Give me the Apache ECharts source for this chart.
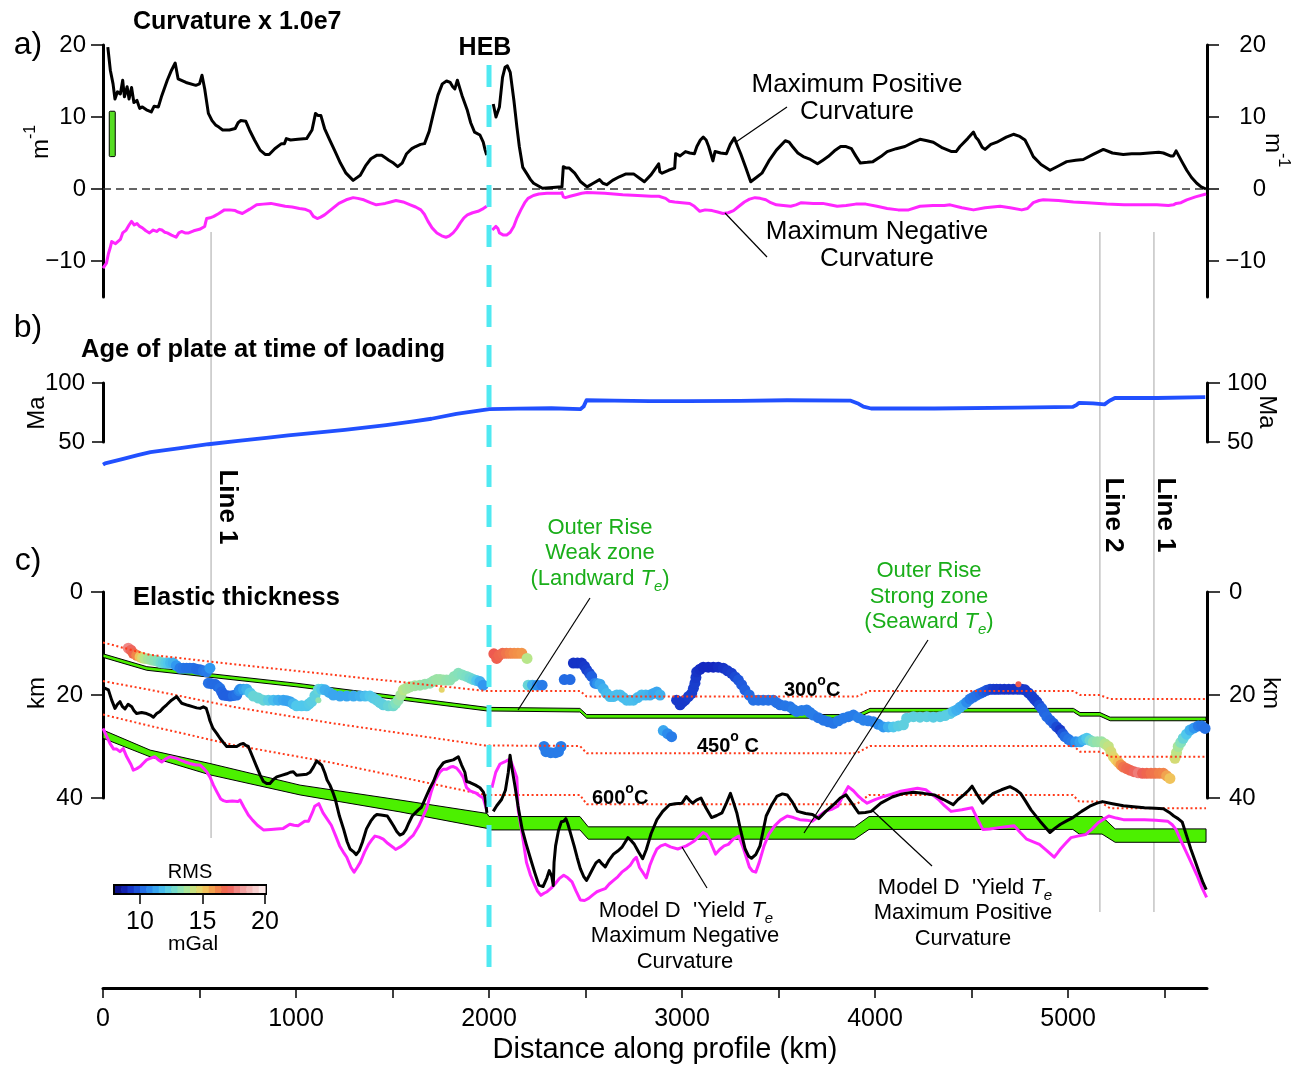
<!DOCTYPE html>
<html><head><meta charset="utf-8">
<script src="https://cdn.jsdelivr.net/npm/echarts@6/dist/echarts.min.js"></script>
<style>html,body{margin:0;padding:0;background:#fff}#c{width:1298px;height:1067px}</style>
</head><body><div id="c"></div>
<script>
const FONT = "'Liberation Sans', Arial, Helvetica, sans-serif";
const X_MAX = 5720;
const HEB_KM = 2000;
const xTickValues = [0,500,1000,1500,2000,2500,3000,3500,4000,4500,5000,5500];
const xLabelValues = [0,1000,2000,3000,4000,5000];
const curvTicks = [-10,0,10,20];
const rmsTicks = [10,15,20];
const rmsStops = [8,8.5,9,9.5,10,10.5,11,11.5,12,12.5,13,13.5,14,14.5,15,15.5,16,16.5,17,17.5,18,18.5,19,19.5,20];
const rmsColors = ['#0a0a78','#1428c0','#2060e0','#3098f0','#50c8ec','#80e0c0','#b8e68a','#f0d060','#f29048','#ee5a50','#f09494','#f6c4c4','#fff4f4'];
const seismicLinesKm = [560, 5165, 5445];
const seismicLineNames = ['Line 1', 'Line 2', 'Line 1'];

// Panel a: curvature x 1e7 (m^-1)
const zeroLine = [[0,0],[X_MAX,0]];
const posCurvature = [[25,19.7],[38,16.5],[52,14.6],[62,12.5],[75,13.5],[90,13.2],[102,15.1],[111,12.8],[125,14.2],[135,12.5],[148,14.1],[160,12.0],[176,12.3],[190,11.2],[204,11.4],[225,11.0],[250,10.7],[265,11.5],[287,11.4],[305,13.0],[333,15.1],[355,16.5],[374,17.5],[389,15.3],[430,14.8],[481,14.4],[500,14.6],[513,15.8],[527,13.9],[546,10.5],[565,9.5],[583,8.9],[600,8.6],[620,8.2],[655,8.2],[685,8.4],[700,9.2],[713,9.5],[740,9.4],[759,8.2],[785,6.8],[814,5.4],[840,4.8],[861,4.8],[890,5.6],[925,6.3],[940,6.3],[950,7.0],[972,6.8],[1010,6.9],[1055,7.0],[1083,8.2],[1101,10.5],[1115,10.2],[1129,10.2],[1148,8.4],[1175,6.8],[1203,5.2],[1230,3.6],[1259,2.2],[1296,1.2],[1333,1.9],[1360,3.2],[1388,4.2],[1420,4.7],[1444,4.7],[1465,4.3],[1481,4.0],[1505,3.6],[1527,3.1],[1550,3.6],[1573,4.9],[1600,5.6],[1620,5.9],[1645,6.2],[1666,6.3],[1690,8.0],[1712,10.5],[1735,13.0],[1758,14.6],[1780,15.0],[1799,14.8],[1812,14.2],[1823,13.9],[1836,15.1],[1860,13.0],[1888,10.9],[1905,9.2],[1925,7.9],[1953,7.5],[1970,6.5],[1980,5.4],[1988,4.7],
 null,
 [2022,11.8],[2036,10.0],[2046,10.0],[2054,11.4],[2070,15.5],[2083,16.9],[2095,17.1],[2110,16.2],[2129,12.3],[2145,8.5],[2157,5.9],[2175,3.0],[2194,2.2],[2215,1.3],[2231,0.8],[2277,0.1],[2330,0.2],[2378,0.3],[2385,3.1],[2400,2.9],[2416,2.9],[2444,2.2],[2475,1.0],[2508,0.3],[2540,0.8],[2573,1.3],[2590,0.8],[2610,0.6],[2640,1.2],[2675,1.7],[2710,2.1],[2749,2.1],[2780,1.5],[2805,1.0],[2840,2.0],[2879,3.5],[2885,2.4],[2897,2.2],[2930,2.6],[2962,2.9],[2967,4.9],[2990,4.6],[3018,5.2],[3040,5.0],[3064,4.9],[3077,5.9],[3095,6.8],[3110,7.2],[3125,6.8],[3138,5.9],[3160,3.9],[3171,5.2],[3200,5.0],[3230,4.9],[3250,6.2],[3271,7.1],[3290,5.8],[3304,4.9],[3330,3.0],[3356,1.0],[3385,1.6],[3414,2.2],[3450,3.9],[3489,5.4],[3535,6.7],[3555,6.5],[3572,5.9],[3600,5.0],[3628,4.5],[3665,4.1],[3702,3.5],[3730,4.0],[3757,4.5],[3790,5.3],[3822,5.9],[3850,5.9],[3878,5.6],[3900,4.6],[3924,3.6],[3960,3.7],[3989,3.8],[4030,4.5],[4063,5.2],[4110,5.6],[4155,5.9],[4200,6.5],[4233,6.9],[4270,6.7],[4302,6.5],[4350,5.7],[4397,5.2],[4420,5.2],[4440,5.9],[4480,7.0],[4510,7.9],[4522,7.2],[4535,6.8],[4555,5.8],[4570,5.5],[4600,6.2],[4631,6.5],[4680,7.2],[4717,7.6],[4750,7.3],[4777,6.8],[4800,5.6],[4820,4.5],[4860,3.4],[4907,2.6],[4950,3.2],[4993,3.8],[5040,4.0],[5079,4.1],[5130,4.8],[5183,5.5],[5230,5.0],[5286,4.8],[5330,4.9],[5373,4.9],[5420,5.0],[5470,5.1],[5494,5.0],[5530,4.6],[5546,4.6],[5560,5.3],[5590,3.8],[5615,2.6],[5640,1.6],[5667,0.8],[5690,0.3],[5715,0]];
const negCurvature = [[0,-11.0],[10,-10.6],[18,-10.3],[28,-9.0],[37,-8.2],[45,-7.3],[55,-7.1],[65,-7.6],[74,-7.5],[90,-7.0],[102,-6.1],[120,-5.7],[135,-5.0],[148,-4.5],[162,-5.0],[176,-4.8],[190,-5.2],[204,-5.4],[222,-5.8],[241,-6.1],[260,-5.7],[278,-5.9],[292,-5.6],[305,-5.7],[320,-6.0],[333,-6.1],[355,-6.4],[379,-6.7],[393,-6.1],[407,-5.9],[425,-6.1],[444,-6.1],[470,-5.8],[500,-5.6],[527,-5.2],[532,-4.6],[537,-4.1],[555,-4.0],[574,-3.8],[600,-3.4],[629,-2.9],[655,-2.9],[685,-3.0],[700,-3.2],[722,-3.4],[760,-2.8],[796,-2.2],[830,-2.1],[870,-2.0],[905,-2.2],[944,-2.4],[980,-2.5],[1018,-2.7],[1045,-2.8],[1073,-3.1],[1090,-3.8],[1110,-4.1],[1128,-3.9],[1148,-3.6],[1185,-2.8],[1222,-2.0],[1260,-1.5],[1296,-1.2],[1320,-1.3],[1351,-1.5],[1385,-1.9],[1416,-2.2],[1440,-2.1],[1462,-2.0],[1490,-1.8],[1518,-1.6],[1555,-1.8],[1592,-2.2],[1620,-2.5],[1647,-2.9],[1665,-3.5],[1684,-4.5],[1705,-5.4],[1730,-6.1],[1755,-6.5],[1777,-6.7],[1795,-6.5],[1814,-6.1],[1832,-5.5],[1851,-4.7],[1870,-4.0],[1888,-3.6],[1915,-3.3],[1943,-3.1],[1965,-2.8],[1988,-2.4],
 null,
 [2017,-5.7],[2036,-5.2],[2046,-5.5],[2054,-6.1],[2075,-6.4],[2091,-6.4],[2110,-6.0],[2128,-5.2],[2145,-4.0],[2165,-2.9],[2185,-1.9],[2202,-1.3],[2230,-0.9],[2258,-0.7],[2300,-0.6],[2365,-0.6],[2378,-0.5],[2385,-1.1],[2396,-1.2],[2420,-1.0],[2451,-0.8],[2480,-0.6],[2508,-0.5],[2600,-0.6],[2693,-0.8],[2770,-0.9],[2841,-1.0],[2880,-1.0],[2915,-1.3],[2935,-1.7],[2962,-1.8],[3000,-1.9],[3040,-2.0],[3064,-2.4],[3092,-3.1],[3120,-2.9],[3156,-3.0],[3185,-3.2],[3212,-3.4],[3240,-3.3],[3267,-3.0],[3295,-2.4],[3323,-1.8],[3350,-1.4],[3378,-1.2],[3405,-1.3],[3434,-1.5],[3460,-1.9],[3489,-2.2],[3525,-2.3],[3563,-2.4],[3590,-2.2],[3618,-1.9],[3680,-2.0],[3729,-2.0],[3765,-2.2],[3804,-2.4],[3850,-2.3],[3900,-2.1],[3952,-2.1],[4010,-2.4],[4063,-2.7],[4120,-2.9],[4174,-2.9],[4233,-2.4],[4300,-2.3],[4359,-2.3],[4389,-2.2],[4450,-2.6],[4510,-2.9],[4570,-2.6],[4648,-2.4],[4700,-2.6],[4760,-2.9],[4790,-2.7],[4820,-1.9],[4850,-1.6],[4872,-1.5],[4950,-1.6],[5028,-1.8],[5100,-1.9],[5200,-2.1],[5290,-2.2],[5373,-2.2],[5460,-2.2],[5520,-2.3],[5546,-2.2],[5560,-2.0],[5585,-1.9],[5615,-1.5],[5660,-1.1],[5715,-0.7]];
const scaleBar = [[48, 4.5, 10.8]];

// Panel b: age of plate at time of loading (Ma)
const plateAge = [[0,30.8],[11,31.9],[100,35.5],[180,38.8],[246,41.4],[400,44.8],[546,48.1],[700,50.9],[846,53.5],[960,55.6],[1081,57.6],[1253,60.3],[1467,64.3],[1600,67.2],[1702,69.7],[1831,73.8],[1920,76.0],[2002,77.8],[2150,78.2],[2323,78.6],[2473,77.8],[2490,80.0],[2505,85.4],[2650,85.0],[2833,84.6],[3022,84.6],[3300,84.8],[3544,85.4],[3871,85.1],[3915,82.4],[3940,80.0],[3980,78.4],[4307,78.4],[4742,79.2],[5025,79.7],[5045,81.5],[5058,83.2],[5130,82.8],[5189,81.9],[5215,85.0],[5243,87.3],[5461,87.3],[5711,88.1]];

// Panel c: elastic thickness (km)
const iso300 = [[0,9.8],[243,12.2],[675,14.0],[1193,16.1],[1979,19.2],[2471,19.2],[2506,20.3],[3905,20.3],[3974,19.2],[5028,19.2],[5062,20.0],[5165,20.0],[5218,20.8],[5715,20.8]];
const iso450 = [[0,17.3],[243,19.0],[675,22.3],[1193,25.5],[1979,29.8],[2471,29.9],[2506,31.3],[3905,31.3],[3974,29.9],[5028,29.9],[5062,31.0],[5165,31.0],[5218,32.0],[5715,32.0]];
const iso600 = [[0,23.8],[243,26.0],[675,29.7],[1193,33.2],[1979,39.4],[2471,39.4],[2506,41.2],[3905,41.2],[3969,39.4],[5025,39.4],[5058,40.7],[5165,40.7],[5218,42.0],[5715,42.0]];
const landwardTop = [[0,12.0],[227,14.5],[1000,17.7],[1990,22.4],[2471,22.6],[2506,23.8],[3905,23.8],[3974,22.6],[5028,22.6],[5062,23.4],[5165,23.4],[5218,24.3],[5715,24.3]];
const landwardBottom = [[0,12.7],[227,15.2],[1000,18.4],[1990,23.1],[2471,23.3],[2506,24.5],[3905,24.5],[3974,23.3],[5028,23.3],[5062,24.1],[5165,24.1],[5218,25.0],[5715,25.0]];
const seawardTop = [[0,26.8],[244,30.7],[554,33.3],[1021,37.5],[1539,40.4],[1990,43.0],[2000,43.6],[2471,43.6],[2514,45.6],[3895,45.6],[3969,43.6],[5176,43.6],[5244,46.0],[5715,46.0]];
const seawardBottom = [[0,28.4],[244,32.0],[554,35.5],[1021,39.4],[1539,42.7],[1990,45.9],[2000,46.2],[2471,46.2],[2514,48.0],[3895,48.0],[3969,46.1],[5025,46.1],[5058,47.0],[5176,47.0],[5244,48.6],[5715,48.6]];
const yieldTePos = [[0,18.5],[10,18.7],[28,19.0],[45,21.0],[62,22.6],[75,21.8],[88,21.3],[100,22.2],[114,22.7],[130,21.8],[149,22.3],[160,23.0],[174,23.6],[200,23.4],[226,23.6],[245,23.9],[261,24.3],[278,23.6],[295,23.2],[312,22.5],[330,21.9],[355,21.0],[382,20.3],[395,21.0],[408,21.6],[440,22.0],[468,22.3],[485,22.5],[503,22.6],[520,22.3],[535,22.6],[546,23.9],[554,25.0],[570,26.5],[590,27.5],[606,28.4],[625,29.3],[641,30.0],[665,30.0],[693,30.0],[710,29.6],[727,29.4],[740,29.8],[753,30.0],[775,32.0],[796,33.9],[815,35.6],[831,36.8],[848,37.2],[865,37.2],[883,36.4],[900,35.9],[925,35.6],[952,35.3],[970,35.0],[986,34.9],[1003,35.6],[1030,35.5],[1055,35.4],[1073,35.0],[1090,34.0],[1107,32.8],[1120,33.2],[1133,33.6],[1150,35.2],[1161,36.5],[1176,37.5],[1190,38.8],[1204,40.3],[1225,43.5],[1247,46.1],[1265,48.5],[1280,49.9],[1297,50.4],[1312,51.0],[1328,50.2],[1344,48.6],[1365,46.0],[1387,44.5],[1405,43.6],[1419,43.2],[1440,43.3],[1473,43.5],[1490,44.5],[1505,45.4],[1522,46.5],[1538,47.2],[1555,46.9],[1570,46.1],[1585,44.8],[1602,43.5],[1618,42.9],[1634,42.3],[1650,41.8],[1665,40.5],[1677,39.5],[1695,38.0],[1712,36.8],[1735,34.6],[1763,33.2],[1781,32.9],[1815,32.6],[1841,32.0],[1858,33.6],[1875,35.0],[1884,36.8],[1902,37.0],[1930,37.5],[1953,38.0],[1970,38.8],[1979,39.8],[1989,42.9],
 null,
 [2022,42.6],[2040,41.5],[2065,40.3],[2085,38.5],[2100,35.0],[2109,31.7],[2118,34.0],[2135,37.8],[2150,41.5],[2172,46.1],[2193,49.0],[2215,51.8],[2237,54.5],[2258,56.9],[2280,57.2],[2300,55.5],[2312,54.1],[2325,55.2],[2333,57.0],[2337,52.5],[2345,49.3],[2360,46.3],[2375,44.6],[2387,44.5],[2398,44.0],[2409,45.1],[2425,47.2],[2441,49.3],[2457,51.6],[2473,53.7],[2490,55.2],[2505,56.0],[2520,55.0],[2538,53.7],[2554,52.6],[2570,52.1],[2586,52.8],[2602,53.4],[2623,52.0],[2645,50.9],[2667,50.3],[2688,49.6],[2705,48.6],[2720,47.7],[2737,48.3],[2753,49.0],[2775,50.5],[2796,51.8],[2815,50.0],[2840,46.9],[2870,44.2],[2900,42.6],[2935,41.3],[2965,41.1],[3000,41.0],[3022,39.7],[3040,40.5],[3055,41.0],[3075,40.4],[3098,40.0],[3125,42.0],[3153,43.8],[3180,43.4],[3207,42.9],[3230,41.0],[3251,39.1],[3268,41.0],[3284,42.9],[3305,46.5],[3327,49.9],[3345,51.3],[3360,51.7],[3382,51.0],[3404,49.3],[3420,46.4],[3436,43.5],[3465,41.3],[3491,39.7],[3520,39.2],[3545,39.4],[3572,40.8],[3599,42.6],[3640,43.0],[3676,43.2],[3708,44.0],[3745,42.6],[3785,41.3],[3820,40.0],[3850,39.4],[3880,41.0],[3915,42.9],[3950,42.8],[3980,42.6],[4030,41.0],[4089,39.8],[4140,39.2],[4198,38.9],[4250,39.1],[4307,39.4],[4355,40.3],[4405,41.3],[4430,40.3],[4460,39.4],[4485,38.5],[4503,37.7],[4530,39.4],[4558,41.0],[4585,40.0],[4612,39.1],[4655,38.4],[4699,37.8],[4730,38.4],[4754,39.1],[4780,40.6],[4808,42.3],[4855,44.5],[4906,46.7],[4935,45.8],[4961,45.1],[4995,44.4],[5025,43.8],[5070,42.6],[5113,41.6],[5150,41.0],[5178,40.7],[5230,41.1],[5287,41.5],[5340,41.7],[5396,41.9],[5450,42.0],[5494,42.1],[5525,42.8],[5548,43.5],[5570,44.0],[5592,44.7],[5614,47.3],[5636,49.9],[5658,52.2],[5679,54.4],[5700,56.5],[5716,57.8]];
const yieldTeNeg = [[0,26.5],[10,26.8],[36,29.4],[55,30.5],[71,30.5],[88,31.0],[105,30.4],[123,32.0],[131,32.3],[145,33.5],[157,34.6],[175,34.3],[192,33.9],[210,33.2],[226,32.6],[244,32.3],[269,32.0],[287,32.6],[304,33.0],[325,32.4],[347,32.0],[382,32.3],[399,32.6],[425,33.0],[451,33.3],[480,33.6],[503,33.6],[520,34.2],[537,34.9],[555,36.0],[572,37.5],[590,38.8],[610,40.2],[624,40.5],[641,40.7],[670,40.6],[699,40.7],[710,40.4],[730,41.8],[753,43.3],[775,44.3],[800,45.3],[831,46.2],[870,46.1],[900,46.0],[934,45.9],[968,45.1],[990,45.3],[1011,45.4],[1021,45.2],[1045,44.5],[1065,44.5],[1085,42.8],[1097,41.6],[1107,41.4],[1118,41.1],[1140,42.9],[1160,44.0],[1183,45.3],[1205,47.3],[1226,49.3],[1245,50.5],[1263,51.5],[1285,53.5],[1301,54.4],[1317,53.5],[1333,52.5],[1355,50.5],[1376,49.0],[1395,48.0],[1409,47.4],[1430,47.6],[1452,48.0],[1475,48.8],[1504,49.6],[1516,50.0],[1540,49.5],[1559,49.0],[1585,48.0],[1608,47.2],[1635,45.5],[1656,43.8],[1677,42.0],[1699,39.0],[1720,36.6],[1745,35.0],[1763,34.4],[1781,34.4],[1800,34.0],[1815,33.9],[1832,34.2],[1850,35.0],[1867,36.0],[1884,38.0],[1902,38.6],[1930,39.0],[1953,39.6],[1970,40.0],[1988,42.3],
 null,
 [2015,38.0],[2035,35.0],[2057,33.4],[2080,33.0],[2100,32.6],[2115,33.0],[2130,34.5],[2144,36.0],[2151,42.3],[2172,47.0],[2194,52.5],[2215,55.0],[2237,56.9],[2250,58.0],[2269,58.9],[2285,58.5],[2301,58.2],[2322,57.5],[2344,56.6],[2365,55.6],[2387,55.0],[2408,55.5],[2430,56.3],[2450,58.0],[2473,59.8],[2495,59.9],[2516,59.5],[2538,58.8],[2559,58.2],[2580,57.9],[2602,57.6],[2623,56.7],[2645,56.0],[2667,55.3],[2688,54.4],[2710,53.8],[2731,53.1],[2750,52.0],[2763,51.5],[2780,53.5],[2796,54.4],[2815,55.5],[2834,53.0],[2850,51.5],[2870,49.9],[2890,49.3],[2913,49.0],[2940,49.5],[2978,49.9],[3000,49.6],[3022,49.3],[3045,48.8],[3065,48.3],[3087,47.5],[3109,46.7],[3125,47.0],[3142,48.0],[3158,49.5],[3174,50.9],[3195,50.0],[3218,49.3],[3240,49.0],[3265,48.0],[3294,47.4],[3320,50.0],[3349,53.4],[3365,54.2],[3382,54.4],[3400,52.5],[3425,49.3],[3450,47.0],[3480,45.4],[3510,44.3],[3545,43.5],[3578,43.8],[3610,44.2],[3645,44.3],[3676,44.5],[3710,43.5],[3741,42.6],[3775,42.2],[3807,41.6],[3835,39.5],[3861,37.8],[3888,38.6],[3915,39.7],[3940,40.5],[3959,41.0],[4000,40.3],[4046,39.7],[4090,39.2],[4133,38.7],[4176,38.4],[4220,38.1],[4263,38.4],[4295,39.3],[4329,40.3],[4360,41.5],[4394,42.6],[4450,42.3],[4503,41.9],[4530,44.0],[4558,46.1],[4595,46.0],[4634,45.8],[4680,45.6],[4721,45.4],[4755,46.8],[4786,48.0],[4820,48.5],[4852,49.0],[4890,50.2],[4928,51.5],[4945,50.7],[4961,49.9],[4990,48.7],[5015,47.7],[5050,47.4],[5091,47.1],[5125,46.0],[5156,44.8],[5185,44.1],[5211,43.5],[5250,43.9],[5287,44.2],[5340,44.2],[5396,44.2],[5455,44.3],[5516,44.5],[5540,45.2],[5559,46.1],[5585,48.3],[5614,50.6],[5641,52.8],[5668,55.0],[5695,57.5],[5718,59.3]];
// Te estimates [km, Te depth km, RMS mGal]
const teDots = [[131,10.9,17.8],[145,11.3,17.2],[157,11.9,16.8],[175,12.3,16.2],[192,12.6,15.2],[205,12.8,14.6],[218,12.9,14.0],[235,13.0,13.7],[252,13.2,13.5],[270,13.3,13.2],[287,13.5,13.0],[300,13.7,12.7],[312,13.8,12.5],[325,13.8,12.2],[338,13.8,12.0],[350,13.8,11.7],[364,13.8,11.5],[380,14.3,11.0],[399,14.8,10.5],[416,14.8,10.4],[433,14.8,10.3],[450,14.8,10.3],[468,14.8,10.3],[485,15.0,10.2],[503,15.1,10.2],[520,15.3,10.4],[537,15.5,10.5],[554,14.8,11.0],
 [546,17.7,10.3],[563,17.8,10.2],[580,17.9,10.2],[593,18.3,10.2],[606,18.7,10.3],[615,19.4,10.1],[623,20.0,10.0],[640,20.1,10.0],[658,20.2,10.0],[675,20.1,10.2],[693,20.0,10.3],[705,19.2,10.6],[710,18.9,10.8],[728,18.9,11.2],[745,18.9,11.5],[762,19.6,12.0],[779,20.2,12.5],[805,20.6,12.5],[831,21.0,12.5],[857,21.0,12.2],[883,21.0,11.8],[908,21.0,11.5],[934,21.0,11.3],[952,21.1,11.2],[969,21.3,11.2],[986,21.7,11.6],[1003,22.1,12.0],[1029,22.1,12.0],[1055,22.1,12.0],[1068,21.7,12.1],[1081,21.3,12.2],[1098,20.1,12.3],[1116,18.9,12.5],[1133,18.9,12.0],[1150,19.0,11.5],[1172,19.5,11.4],[1193,20.0,11.3],[1228,20.2,11.3],[1263,20.2,11.3],[1298,20.2,11.4],[1332,20.2,11.5],[1358,20.2,11.8],[1383,20.2,12.0],[1400,20.6,12.1],[1418,21.0,12.2],[1435,21.5,12.3],[1452,21.9,12.3],[1478,22.1,12.5],[1504,22.1,12.7],[1517,21.6,13.0],[1530,21.0,13.3],[1543,20.0,13.7],[1556,19.0,14.0],[1573,18.7,13.8],[1591,18.4,13.7],[1616,18.2,13.6],[1642,18.1,13.5],[1668,17.9,13.4],[1694,17.7,13.3],[1712,17.3,13.4],[1729,17.0,13.5],[1746,17.0,13.5],[1763,17.1,13.5],[1780,17.1,13.4],[1798,17.1,13.3],[1820,16.4,13.2],[1841,15.8,13.1],[1862,16.1,13.0],[1884,16.4,12.9],[1902,16.7,12.7],[1919,17.0,12.5],[1936,17.2,12.0],[1953,17.4,11.5],[1970,18.1,11.0],
 [2025,12.0,17.0],[2040,12.9,16.9],[2052,12.3,16.8],[2070,11.9,16.7],[2090,11.9,16.5],[2110,11.9,16.3],[2130,11.9,16.1],[2150,11.9,16.0],[2170,11.9,15.9],[2197,12.9,14.0],
 [2203,18.1,12.5],[2225,18.1,11.5],[2250,18.1,10.8],[2275,18.1,10.5],
 [2285,30.0,10.5],[2295,31.0,10.5],[2320,31.2,10.5],[2345,31.2,10.5],[2360,31.0,10.5],[2373,30.0,10.5],
 [2390,17.0,10.2],[2420,17.0,10.2],
 [2437,13.8,9.2],[2458,13.8,9.2],[2480,13.8,9.2],[2495,14.4,9.3],[2506,15.1,9.4],[2520,15.8,9.6],[2532,16.4,10.0],[2549,17.7,10.5],[2562,17.8,10.9],[2575,17.9,11.3],[2592,18.8,11.5],[2609,19.7,11.7],[2627,20.3,11.8],[2644,20.3,11.8],[2662,20.0,11.8],[2679,20.0,11.8],[2696,20.5,11.8],[2713,21.0,11.8],[2730,21.0,11.8],[2748,21.0,11.8],[2770,20.5,11.7],[2791,20.0,11.7],[2812,20.0,11.6],[2834,20.0,11.5],[2852,19.7,11.3],[2869,19.4,11.3],[2886,20.0,11.5],
 [2903,26.9,11.3],[2925,27.5,10.8],[2946,28.1,10.5],
 [2972,21.0,9.3],[2990,21.9,9.3],[3003,21.4,9.3],[3016,21.0,9.3],[3033,20.3,9.4],[3050,19.7,9.4],[3059,18.7,9.4],[3067,17.7,9.4],[3072,16.6,9.3],[3076,15.5,9.2],[3093,15.0,9.1],[3110,14.6,9.0],[3136,14.6,9.0],[3162,14.6,9.0],[3188,14.6,9.1],[3214,14.8,9.2],[3236,15.3,9.3],[3257,15.8,9.4],[3275,16.5,9.6],[3292,17.1,9.8],[3309,18.0,9.9],[3326,19.0,10.0],[3348,20.0,10.2],[3369,21.0,10.3],[3395,21.0,10.3],[3421,21.0,10.3],[3447,21.0,10.3],[3473,21.0,10.3],[3490,21.5,10.3],[3508,21.9,10.3],[3534,22.1,10.4],[3560,22.3,10.4],[3577,22.8,10.5],[3594,23.2,10.5],[3620,23.0,10.5],[3646,22.9,10.5],[3663,23.4,10.5],[3680,23.9,10.5],[3706,24.4,10.4],[3732,24.9,10.4],[3758,25.2,10.4],[3784,25.5,10.4],[3810,25.0,10.5],[3836,24.5,10.5],[3862,24.2,10.5],[3888,23.9,10.5],[3914,24.4,10.6],[3940,24.9,10.6],[3965,25.0,10.6],[3991,25.2,10.6],[4017,25.7,10.8],[4043,26.2,11.0],[4069,26.2,11.5],[4095,26.2,12.0],[4121,26.0,12.2],[4147,25.8,12.3],[4164,24.5,12.3],[4199,24.2,12.3],[4233,24.3,12.3],[4268,24.2,12.3],[4302,24.3,12.2],[4337,24.2,12.2],[4363,24.0,12.2],[4389,23.6,12.2],[4406,23.2,11.8],[4423,22.9,11.5],[4440,22.4,11.4],[4458,21.9,11.3],[4475,21.4,10.8],[4492,20.8,10.5],[4510,20.4,10.4],[4527,20.0,10.3],[4544,19.7,10.2],[4561,19.4,10.0],[4578,19.1,9.8],[4596,18.9,9.6],[4613,18.9,9.4],[4630,18.9,9.3],[4648,18.9,9.3],[4670,18.9,9.2],[4693,18.9,9.2],[4716,18.9,9.2],[4740,18.9,9.2],[4760,18.9,9.3],[4777,19.0,9.3],[4795,19.6,9.3],[4812,20.2,9.4],[4825,20.8,9.4],[4838,21.3,9.4],[4851,22.0,9.7],[4864,22.6,10.0],[4877,23.4,10.1],[4890,24.2,10.2],[4907,24.9,10.1],[4924,25.5,10.0],[4941,26.2,9.6],[4959,26.8,9.3],[4972,27.5,9.8],[4984,28.1,10.2],[5002,28.6,10.4],[5019,29.1,10.5],[5040,29.1,10.9],[5062,29.1,11.2],[5080,28.7,11.6],[5097,28.4,12.0],[5114,28.8,12.6],[5131,29.1,13.2],[5152,29.1,13.4],[5174,29.1,13.5],[5192,29.5,13.9],[5209,30.0,14.2],[5222,31.0,14.5],[5235,32.0,14.7],[5248,32.6,15.0],[5261,33.1,15.3],[5274,33.6,16.0],[5287,34.0,16.5],[5304,34.3,16.7],[5321,34.6,16.8],[5342,34.9,17.2],[5364,35.1,17.6],[5386,35.2,17.1],[5408,35.2,16.8],[5430,35.2,16.6],[5451,35.2,16.5],[5473,35.2,16.3],[5494,35.2,16.2],[5511,35.7,15.7],[5528,36.2,15.2],
 [5554,32.3,14.5],[5562,31.2,14.1],[5571,30.0,13.7],[5584,29.2,13.1],[5597,28.4,12.5],[5614,27.6,12.0],[5632,26.8,11.5],[5653,26.4,11.0],[5675,26.0,10.5],[5693,26.0,10.4],[5710,26.5,10.3]];
const teSmallDots = [[1116,21.0,13.3],[1755,19.0,14.8],[4743,17.9,17.0]];

const chart = echarts.init(document.getElementById('c'), null, {renderer: 'canvas'});

const G = {left: 103, width: 1104};
const axisLineStyle = {show: true, lineStyle: {color: '#000', width: 3}};
const tickStyle = (len) => ({show: true, length: len, lineStyle: {color: '#000', width: 1.5}});
const lblStyle = (margin, extra) => Object.assign({color: '#000', fontSize: 24, fontFamily: FONT, margin: margin}, extra || {});
const hiddenX = (gi) => ({type: 'value', gridIndex: gi, min: 0, max: X_MAX, show: false});
const minusFmt = (v) => v < 0 ? '\u2212' + Math.abs(v) : String(v);
const plainFmt = (v) => String(v);

const bandRender = (top, bottom) => function (params, api) {
  const pts = top.map(p => api.coord(p)).concat(bottom.slice().reverse().map(p => api.coord(p)));
  return {type: 'polygon', shape: {points: pts}, style: {fill: '#4cf000', stroke: '#000', lineWidth: 1}};
};
const lineSeries = (xi, yi, data, color, width, extra) => Object.assign({
  type: 'line', xAxisIndex: xi, yAxisIndex: yi, data: data, symbol: 'none', showSymbol: false,
  clip: false, connectNulls: false, silent: true,
  lineStyle: {color: color, width: width, join: 'round'}
}, extra || {});

const colorbarData = [];
for (let i = 0; i < rmsStops.length - 1; i++) colorbarData.push([rmsStops[i], rmsStops[i + 1], (rmsStops[i] + rmsStops[i + 1]) / 2]);

const series = [];
series.push(lineSeries(0, 0, zeroLine, '#333', 1.3, {lineStyle: {color: '#333', width: 1.3, type: [8, 5]}}));
series.push(lineSeries(0, 0, posCurvature, '#000', 3));
series.push(lineSeries(0, 0, negCurvature, '#ff26ff', 3));
series.push({type: 'custom', xAxisIndex: 0, yAxisIndex: 0, data: scaleBar, clip: false, silent: true,
  renderItem: function (params, api) {
    const a = api.coord([api.value(0), api.value(2)]);
    const b = api.coord([api.value(0), api.value(1)]);
    return {type: 'rect', shape: {x: a[0] - 3, y: a[1], width: 6, height: b[1] - a[1], r: 1}, style: {fill: '#55dd22', stroke: '#000', lineWidth: 1}};
  }});
series.push(lineSeries(1, 2, plateAge, '#2150ff', 3.8));
series.push({type: 'custom', xAxisIndex: 2, yAxisIndex: 4, data: [[0, 0]], clip: false, silent: true, renderItem: bandRender(seawardTop, seawardBottom)});
series.push({type: 'custom', xAxisIndex: 2, yAxisIndex: 4, data: [[0, 0]], clip: false, silent: true, renderItem: bandRender(landwardTop, landwardBottom)});
[iso300, iso450, iso600].forEach(d => series.push(lineSeries(2, 4, d, '#ff3a1a', 2, {lineStyle: {color: '#ff3a1a', width: 2, type: [2, 2.6]}})));
series.push(lineSeries(2, 4, yieldTeNeg, '#ff26ff', 3));
series.push(lineSeries(2, 4, yieldTePos, '#000', 3));
const dotIdx = series.length;
series.push({type: 'scatter', xAxisIndex: 2, yAxisIndex: 4, data: teDots, symbolSize: 11, clip: false, silent: true, itemStyle: {opacity: 1}});
series.push({type: 'scatter', xAxisIndex: 2, yAxisIndex: 4, data: teSmallDots, symbolSize: 6, clip: false, silent: true, itemStyle: {opacity: 1}});
const barIdx = series.length;
series.push({type: 'custom', xAxisIndex: 4, yAxisIndex: 7, data: colorbarData, clip: false, silent: true,
  renderItem: function (params, api) {
    const p0 = api.coord([api.value(0), 1]);
    const p1 = api.coord([api.value(1), 0]);
    return {type: 'rect', shape: {x: p0[0], y: p0[1], width: p1[0] - p0[0] + 0.6, height: p1[1] - p0[1]}, style: {fill: api.visual('color')}};
  }});

const option = {
  animation: false,
  backgroundColor: '#fff',
  textStyle: {fontFamily: FONT},
  grid: [
    {left: G.left, width: G.width, top: 45, height: 252},
    {left: G.left, width: G.width, top: 383, height: 59},
    {left: G.left, width: G.width, top: 592, height: 206},
    {left: G.left, width: G.width, top: 592, height: 396},
    {left: 115, width: 150, top: 886, height: 7, show: true, borderColor: '#000', borderWidth: 4, backgroundColor: 'transparent'}
  ],
  xAxis: [
    hiddenX(0), hiddenX(1), hiddenX(2),
    {type: 'value', gridIndex: 3, min: 0, max: X_MAX, position: 'bottom',
      axisLine: axisLineStyle, axisTick: Object.assign(tickStyle(10), {customValues: xTickValues}),
      axisLabel: lblStyle(19, {fontSize: 25, customValues: xLabelValues, formatter: plainFmt}), splitLine: {show: false}},
    {type: 'value', gridIndex: 4, min: 8, max: 20, position: 'bottom',
      axisLine: {show: false}, axisTick: Object.assign(tickStyle(11), {customValues: rmsTicks}),
      axisLabel: lblStyle(17, {fontSize: 25, customValues: rmsTicks, formatter: plainFmt}), splitLine: {show: false}}
  ],
  yAxis: [
    {type: 'value', gridIndex: 0, position: 'left', min: -15, max: 20,
      axisLine: axisLineStyle, axisTick: Object.assign(tickStyle(12), {customValues: curvTicks}),
      axisLabel: lblStyle(17, {customValues: curvTicks, formatter: minusFmt}), splitLine: {show: false}},
    {type: 'value', gridIndex: 0, position: 'right', min: -15, max: 20,
      axisLine: axisLineStyle, axisTick: Object.assign(tickStyle(12), {customValues: curvTicks}),
      axisLabel: lblStyle(59, {customValues: curvTicks, formatter: minusFmt, align: 'right'}), splitLine: {show: false}},
    {type: 'value', gridIndex: 1, position: 'left', min: 50, max: 100, interval: 50,
      axisLine: axisLineStyle, axisTick: tickStyle(11), axisLabel: lblStyle(18), splitLine: {show: false}},
    {type: 'value', gridIndex: 1, position: 'right', min: 50, max: 100, interval: 50,
      axisLine: axisLineStyle, axisTick: tickStyle(13), axisLabel: lblStyle(20), splitLine: {show: false}},
    {type: 'value', gridIndex: 2, position: 'left', inverse: true, min: 0, max: 40, interval: 20,
      axisLine: axisLineStyle, axisTick: tickStyle(12), axisLabel: lblStyle(20), splitLine: {show: false}},
    {type: 'value', gridIndex: 2, position: 'right', inverse: true, min: 0, max: 40, interval: 20,
      axisLine: axisLineStyle, axisTick: tickStyle(13), axisLabel: lblStyle(22), splitLine: {show: false}},
    {type: 'value', gridIndex: 3, min: 0, max: 1, show: false},
    {type: 'value', gridIndex: 4, min: 0, max: 1, show: false}
  ],
  visualMap: [{type: 'continuous', show: false, min: 8, max: 20, dimension: 2,
    seriesIndex: [dotIdx, dotIdx + 1, barIdx], inRange: {color: rmsColors}}],
  series: series
};
chart.setOption(option);

// ---- annotations ----
function txt(x, y, text, o) {
  o = o || {};
  const style = {text: text, fill: o.color || '#000', fontSize: o.size || 22, fontFamily: FONT,
    fontWeight: o.weight || 'normal', fontStyle: o.style || 'normal',
    align: o.align || 'center', verticalAlign: o.va || 'middle',
    textAlign: o.align || 'center', textVerticalAlign: o.va || 'middle'};
  if (o.rich) style.rich = o.rich;
  return {type: 'text', x: x, y: y, rotation: o.rot || 0, z: 30, silent: true, style: style};
}
function seg(x1, y1, x2, y2, o) {
  o = o || {};
  return {type: 'line', z: o.z === undefined ? 30 : o.z, silent: true, shape: {x1: x1, y1: y1, x2: x2, y2: y2},
    style: {stroke: o.color || '#000', lineWidth: o.w || 1.2, lineDash: o.dash || null}};
}
const px = (km) => chart.convertToPixel({xAxisIndex: 3}, km);
const supRich = (size, weight) => ({
  n: {fontSize: size, fontWeight: weight, fontFamily: FONT, lineHeight: size + 6, verticalAlign: 'bottom'},
  s: {fontSize: Math.round(size * 0.68), fontWeight: weight, fontFamily: FONT, verticalAlign: 'top'}
});
const teRich = (size, color) => ({
  n: {fontSize: size, fontFamily: FONT, fill: color, lineHeight: size + 8},
  t: {fontSize: size, fontFamily: FONT, fill: color, fontStyle: 'italic', lineHeight: size + 8},
  e: {fontSize: Math.round(size * 0.7), fontFamily: FONT, fill: color, fontStyle: 'italic', verticalAlign: 'bottom'}
});
const GREEN = '#1aae1a';
const g = [];
// reference lines
seismicLinesKm.forEach((km, i) => {
  const x = px(km);
  g.push(seg(x, 232, x, i === 0 ? 838 : 912, {color: '#c4c4c4', w: 1.5, z: 0}));
});
g.push(txt(px(seismicLinesKm[0]) + 16, 507, seismicLineNames[0], {size: 26, weight: 'bold', rot: -Math.PI / 2}));
g.push(txt(px(seismicLinesKm[1]) + 13, 515, seismicLineNames[1], {size: 26, weight: 'bold', rot: -Math.PI / 2}));
g.push(txt(px(seismicLinesKm[2]) + 11, 515, seismicLineNames[2], {size: 26, weight: 'bold', rot: -Math.PI / 2}));
const hx = px(HEB_KM);
g.push(seg(hx, 65, hx, 972, {color: '#50e9f2', w: 5, dash: [22, 18], z: 25}));
g.push(txt(hx - 4, 48, 'HEB', {size: 25, weight: 'bold'}));
// panel labels & titles
g.push(txt(28, 45, 'a)', {size: 32}));
g.push(txt(28, 328, 'b)', {size: 32}));
g.push(txt(28, 561, 'c)', {size: 32}));
g.push(txt(133, 22, 'Curvature x 1.0e7', {size: 25, weight: 'bold', align: 'left'}));
g.push(txt(81, 350, 'Age of plate at time of loading', {size: 25.5, weight: 'bold', align: 'left'}));
g.push(txt(133, 598, 'Elastic thickness', {size: 25.5, weight: 'bold', align: 'left'}));
// axis names
g.push(txt(38, 142, '{n|m}{s|-1}', {rot: Math.PI / 2, rich: supRich(24, 'normal')}));
g.push(txt(1276, 150, '{n|m}{s|-1}', {rot: -Math.PI / 2, rich: supRich(24, 'normal')}));
g.push(txt(37, 413, 'Ma', {size: 24, rot: Math.PI / 2}));
g.push(txt(1267, 412, 'Ma', {size: 24, rot: -Math.PI / 2}));
g.push(txt(37, 693, 'km', {size: 24, rot: Math.PI / 2}));
g.push(txt(1271, 693, 'km', {size: 24, rot: -Math.PI / 2}));
// panel a annotations
g.push(txt(857, 85, 'Maximum Positive', {size: 26}));
g.push(txt(857, 112, 'Curvature', {size: 26}));
g.push(seg(787, 107, 736, 142));
g.push(txt(877, 232, 'Maximum Negative', {size: 26}));
g.push(txt(877, 259, 'Curvature', {size: 26}));
g.push(seg(725, 213, 767, 257));
// panel c annotations
g.push(txt(600, 528, 'Outer Rise', {size: 22, color: GREEN}));
g.push(txt(600, 553, 'Weak zone', {size: 22, color: GREEN}));
g.push(txt(600, 579, '{n|(Landward }{t|T}{e|e}{n|)}', {size: 22, color: GREEN, rich: teRich(22, GREEN)}));
g.push(seg(590, 598, 518, 710));
g.push(txt(929, 571, 'Outer Rise', {size: 22, color: GREEN}));
g.push(txt(929, 597, 'Strong zone', {size: 22, color: GREEN}));
g.push(txt(929, 622, '{n|(Seaward }{t|T}{e|e}{n|)}', {size: 22, color: GREEN, rich: teRich(22, GREEN)}));
g.push(seg(928, 640, 804, 833));
g.push(txt(784, 687, '{n|300}{s|o}{n|C}', {align: 'left', rich: supRich(20, 'bold')}));
g.push(txt(697, 743, '{n|450}{s|o}{n| C}', {align: 'left', rich: supRich(20, 'bold')}));
g.push(txt(592, 795, '{n|600}{s|o}{n|C}', {align: 'left', rich: supRich(20, 'bold')}));
g.push(txt(686, 911, "{n|Model D  'Yield }{t|T}{e|e}", {size: 22, rich: teRich(22, '#000')}));
g.push(txt(685, 936, 'Maximum Negative', {size: 22}));
g.push(txt(685, 962, 'Curvature', {size: 22}));
g.push(seg(707, 888, 682, 847));
g.push(txt(965, 888, "{n|Model D  'Yield }{t|T}{e|e}", {size: 22, rich: teRich(22, '#000')}));
g.push(txt(963, 913, 'Maximum Positive', {size: 22}));
g.push(txt(963, 939, 'Curvature', {size: 22}));
g.push(seg(932, 866, 873, 811));
// colorbar captions
g.push(txt(190, 872, 'RMS', {size: 20}));
g.push(txt(193, 944, 'mGal', {size: 21}));
// x axis title
g.push(txt(665, 1050, 'Distance along profile (km)', {size: 29}));

chart.setOption({graphic: g});
</script>
</body></html>
